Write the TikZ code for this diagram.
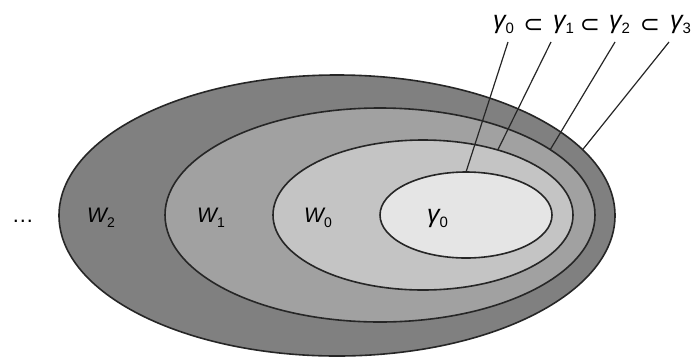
\documentclass[tikz,border=0pt]{standalone}
\usepackage{fontspec}
\setmainfont{Liberation Sans}
\newfontfamily\symfont{DejaVu Sans}
\usetikzlibrary{shapes.geometric}
\newcommand{\ix}[1]{\raisebox{-5pt}{\fontsize{15}{15}\selectfont\upshape #1}}
\newcommand{\wx}[1]{\raisebox{-5.5pt}{\fontsize{14}{14}\selectfont\upshape #1}}
\begin{document}
\begin{tikzpicture}[x=1pt,y=-1pt,
  region/.style={ellipse, draw=black!85, line width=1.6pt, inner sep=0pt, outer sep=0pt},
  lead/.style={draw=black!85, line width=1.2pt},
  lab/.style={anchor=base west, inner sep=0pt, font=\fontsize{21}{23}\selectfont\itshape},
  glab/.style={anchor=base west, inner sep=0pt, font=\fontsize{25}{27}\selectfont\itshape},
  sublab/.style={anchor=center, inner sep=0pt, font=\symfont\fontsize{24}{26}\selectfont}]
\useasboundingbox (0,0) rectangle (695,357);
\node[region, fill=black!50, minimum width=556pt, minimum height=281pt] (w2) at (337,215.5) {};
\node[region, fill=black!37, minimum width=430pt, minimum height=214pt] (w1) at (380,215) {};
\node[region, fill=black!23, minimum width=300pt, minimum height=150pt] (w0) at (423,215) {};
\node[region, fill=black!10, minimum width=172pt, minimum height=86pt] (g0) at (466,215) {};
\node[lab] (lw2) at (87,222) {W\wx{2}};
\node[lab] (lw1) at (197,222) {W\wx{1}};
\node[lab] (lw0) at (304,222) {W\wx{0}};
\node[glab] (lg0) at (427,222) {γ\ix{0}};
\node[anchor=base, inner sep=0pt, font=\fontsize{22}{24}\selectfont] (dots) at (23,222) {\ldots};
% chain gamma_0 < gamma_1 < gamma_2 < gamma_3
\node[glab] (c0) at (493,28) {γ\ix{0}};
\node[sublab] (s1) at (533.5,25.5) {⊂};
\node[glab] (c1) at (553,28) {γ\ix{1}};
\node[sublab] (s2) at (590,25.5) {⊂};
\node[glab] (c2) at (609,28) {γ\ix{2}};
\node[sublab] (s3) at (650,25.5) {⊂};
\node[glab] (c3) at (670,28) {γ\ix{3}};
\coordinate (t0) at (508,42);
\coordinate (t1) at (551,42);
\coordinate (t2) at (615,42);
\coordinate (t3) at (669,42);
\draw[lead] (t0) -- (g0.90);
\draw[lead] (t1) -- (w0.41.3);
\draw[lead] (t2) -- (w1.21.3);
\draw[lead] (t3) -- (w2.15.3);
\end{tikzpicture}
\end{document}
